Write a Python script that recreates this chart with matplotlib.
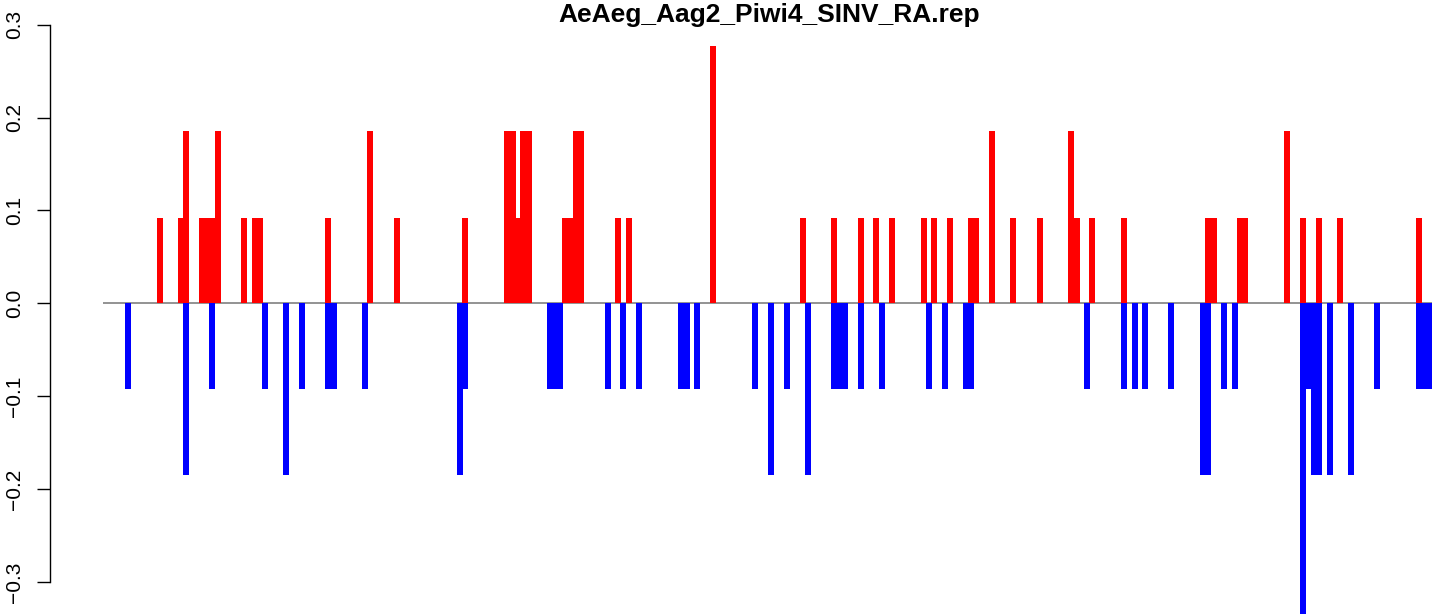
import matplotlib
matplotlib.use("Agg")
import matplotlib.pyplot as plt

plt.rcParams['font.family'] = ['Liberation Sans', 'DejaVu Sans']

title = "AeAeg_Aag2_Piwi4_SINV_RA.rep"

# bar positions (index along the sequence) and heights
pos_idx = [6, 10, 11, 14, 15, 16, 17, 22, 24, 25, 38,
           46, 51, 64, 72, 73, 74, 75, 76, 83, 84, 85, 86, 93, 95, 111,
           128, 134, 139, 142, 145, 151, 153, 156, 160, 161, 164, 168,
           173, 179, 180, 183, 189, 205, 206, 211, 212,
           220, 223, 226, 230, 245]
pos_val = [0.092, 0.092, 0.185, 0.092, 0.092, 0.092, 0.185, 0.092, 0.092, 0.092, 0.092,
           0.185, 0.092, 0.092, 0.185, 0.185, 0.092, 0.185, 0.185, 0.092, 0.092, 0.185, 0.185,
           0.092, 0.092, 0.277,
           0.092, 0.092, 0.092, 0.092, 0.092, 0.092, 0.092, 0.092, 0.092, 0.092, 0.185, 0.092,
           0.092, 0.185, 0.092, 0.092, 0.092, 0.092, 0.092, 0.092, 0.092,
           0.185, 0.092, 0.092, 0.092, 0.092]

neg_idx = [0, 11, 16, 26, 30, 33, 38, 39,
           45, 63, 64, 80, 81, 82, 91, 94, 97, 105, 106, 108,
           119, 122, 125, 129, 134, 135, 136, 139, 143, 152, 155, 159, 160,
           182, 189, 191, 193, 198, 204, 205, 208, 210,
           223, 224, 225, 226, 228, 232, 237, 245, 246, 247]
neg_val = [-0.092, -0.185, -0.092, -0.092, -0.185, -0.092, -0.092, -0.092,
           -0.092, -0.185, -0.092, -0.092, -0.092, -0.092, -0.092, -0.092, -0.092,
           -0.092, -0.092, -0.092,
           -0.092, -0.185, -0.092, -0.185, -0.092, -0.092, -0.092, -0.092, -0.092,
           -0.092, -0.092, -0.092, -0.092,
           -0.092, -0.092, -0.092, -0.092, -0.092, -0.185, -0.185, -0.092, -0.092,
           -0.369, -0.092, -0.185, -0.185, -0.185, -0.185, -0.092, -0.092, -0.092, -0.092]

yticks = [-0.3, -0.2, -0.1, 0.0, 0.1, 0.2, 0.3]

W, H = 1444, 614
fig = plt.figure(figsize=(W / 100, H / 100), dpi=100)
ax = fig.add_axes([103.3 / W, 0, 1329 / W, 594 / H])

ax.axhline(0, color="#808080", lw=1.2, zorder=1)
ax.bar(pos_idx, pos_val, width=1.14, color="#ff0000", linewidth=0, zorder=2)
ax.bar(neg_idx, neg_val, width=1.14, color="#0000ff", linewidth=0, zorder=2)

ax.set_xlim(-4.7, 247.5)
ax.set_ylim(-0.3345, 0.305)

for s in ["top", "right", "bottom"]:
    ax.spines[s].set_visible(False)
ax.spines["left"].set_position(("outward", 38.4))
ax.spines["left"].set_bounds(-0.3, 0.3)
ax.spines["left"].set_linewidth(1.0)
ax.set_xticks([])
ax.set_yticks(yticks)
ax.set_yticklabels([("%.1f" % t).replace("-", "\u2212") for t in yticks],
                   rotation=90, va="center", fontsize=15)
ax.tick_params(axis="y", length=9.4, width=1.0, pad=9.5)

fig.text(769 / W, 1 - 22 / H, title, ha="center", va="baseline",
         fontsize=19, fontweight="bold")

fig.savefig("out.png", dpi=100)
